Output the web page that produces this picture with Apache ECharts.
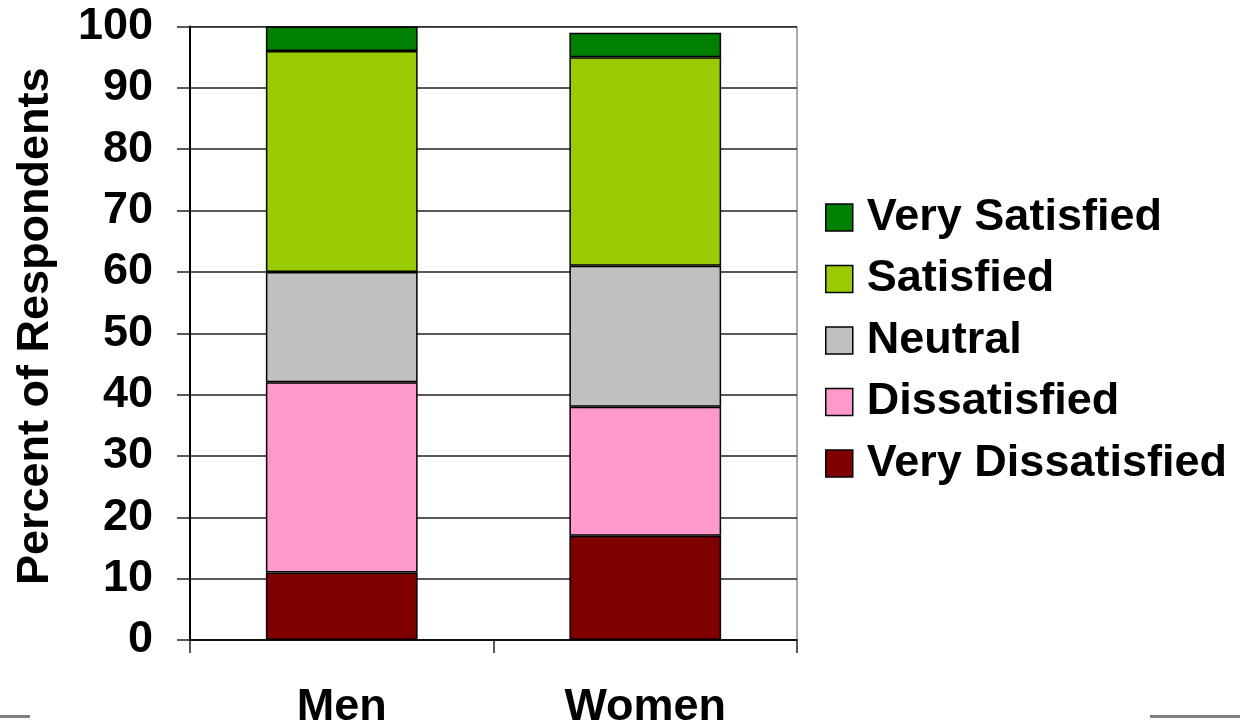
<!DOCTYPE html>
<html>
<head>
<meta charset="utf-8">
<script src="https://cdn.jsdelivr.net/npm/echarts@6/dist/echarts.min.js"></script>
<style>
  html, body { margin: 0; padding: 0; background: #fff; }
  #chart { width: 1240px; height: 725px; }
</style>
</head>
<body>
<div id="chart"></div>
<script>
// Survey satisfaction by gender, percent of respondents
const categories = ['Men', 'Women'];
const veryDissatisfied = [11, 17];
const dissatisfied = [31, 21];
const neutral = [18, 23];
const satisfied = [36, 34];
const verySatisfied = [4, 4];
const yTicks = { min: 0, max: 100, interval: 10 };

const seriesDefs = [
  { name: 'Very Dissatisfied', data: veryDissatisfied, color: '#800000' },
  { name: 'Dissatisfied', data: dissatisfied, color: '#FF99CC' },
  { name: 'Neutral', data: neutral, color: '#C0C0C0' },
  { name: 'Satisfied', data: satisfied, color: '#99CC00' },
  { name: 'Very Satisfied', data: verySatisfied, color: '#008000' }
];

const font = "'Liberation Sans', Arial, Helvetica, sans-serif";
const fs = 45;
const chart = echarts.init(document.getElementById('chart'));

chart.setOption({
  animation: false,
  backgroundColor: '#ffffff',
  textStyle: { fontFamily: font },
  grid: {
    left: 190, right: 443, top: 26.5, bottom: 85,
    containLabel: false,
    outerBoundsMode: 'none',
    show: true, borderColor: '#555', borderWidth: 1, backgroundColor: 'transparent'
  },
  legend: {
    orient: 'vertical',
    left: 825,
    top: 195,
    padding: 0,
    itemWidth: 27,
    itemHeight: 27,
    itemGap: 16.5,
    icon: 'rect',
    data: ['Very Satisfied', 'Satisfied', 'Neutral', 'Dissatisfied', 'Very Dissatisfied'],
    textStyle: {
      fontFamily: font, fontSize: fs, fontWeight: 'bold', color: '#000',
      lineHeight: 44, padding: [0, 0, 0, 9]
    },
    itemStyle: { borderColor: '#000', borderWidth: 1.5 }
  },
  xAxis: {
    type: 'category',
    data: categories,
    axisLine: { lineStyle: { color: '#000', width: 1.5 } },
    axisTick: { show: true, length: 13, alignWithLabel: false, lineStyle: { color: '#222', width: 1.5 } },
    axisLabel: {
      margin: 45, fontFamily: font, fontSize: fs, fontWeight: 'bold', color: '#000'
    },
    splitLine: { show: false }
  },
  yAxis: {
    type: 'value',
    min: yTicks.min,
    max: yTicks.max,
    interval: yTicks.interval,
    name: 'Percent of Respondents',
    nameLocation: 'middle',
    nameRotate: 90,
    nameGap: 132,
    nameTextStyle: { fontFamily: font, fontSize: fs, fontWeight: 'bold', color: '#000', padding: [0, 0, 0, 14] },
    axisLine: { show: true, lineStyle: { color: '#000', width: 2 } },
    axisTick: { show: true, length: 13, lineStyle: { color: '#222', width: 1.5 } },
    axisLabel: {
      margin: 37, fontFamily: font, fontSize: fs, fontWeight: 'bold', color: '#000'
    },
    splitLine: { show: true, lineStyle: { color: '#222', width: 1.5 } }
  },
  series: seriesDefs.map(s => ({
    name: s.name,
    type: 'bar',
    stack: 'total',
    barWidth: '50%',
    data: s.data,
    itemStyle: { color: s.color, borderColor: '#000', borderWidth: 1.5 }
  })),
  graphic: [
    { type: 'rect', left: 0, top: 715, shape: { width: 30, height: 3 }, style: { fill: '#808080' }, silent: true },
    { type: 'rect', left: 1150, top: 715, shape: { width: 90, height: 3 }, style: { fill: '#808080' }, silent: true }
  ]
});
</script>
</body>
</html>
